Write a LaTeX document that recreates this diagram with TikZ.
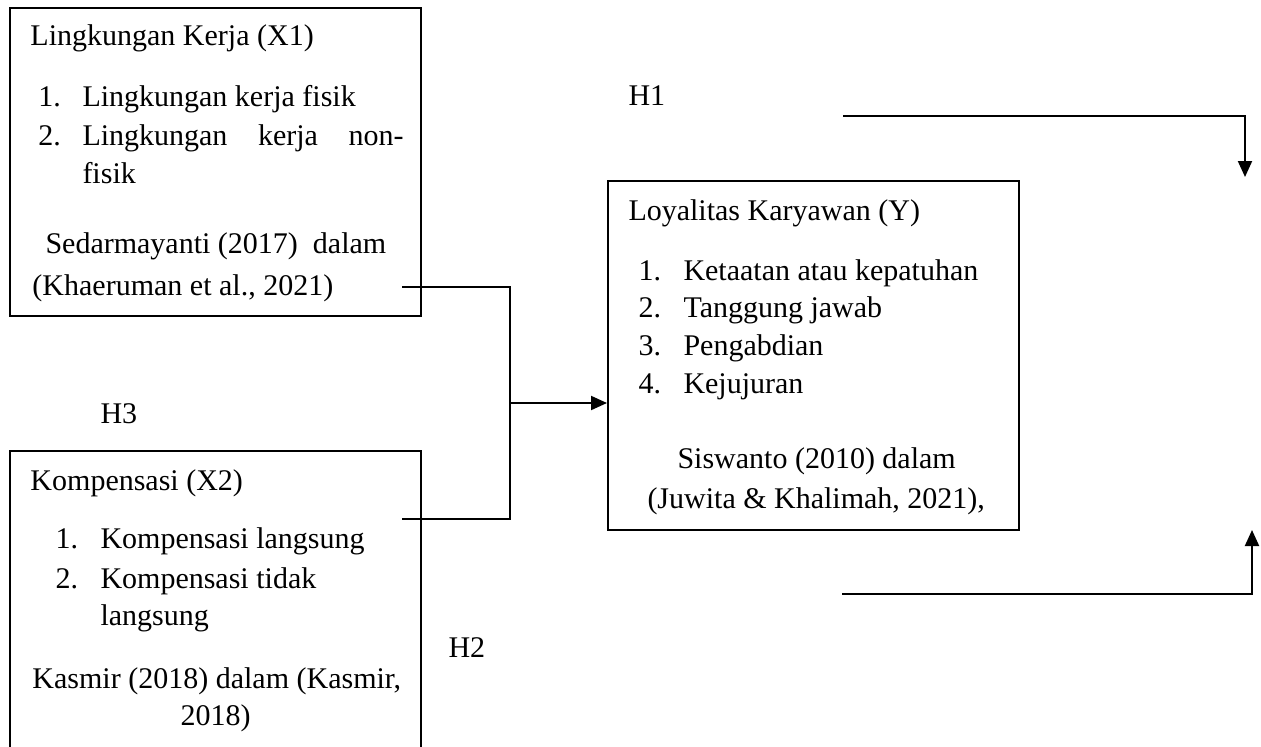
\documentclass[tikz,border=0pt]{standalone}
\usepackage{fontspec}
\setmainfont{Liberation Serif}
\usepackage{tikz}
\usetikzlibrary{arrows.meta,fit}
\tikzset{
  box/.style={draw, line width=0.8pt, inner sep=0pt},
  txt/.style={anchor=base west, inner sep=0pt},
  ln/.style={line width=0.8pt},
  arr/.style={ln, -{Triangle[length=6.4pt,width=5.6pt]}},
}

\begin{document}
\begin{tikzpicture}[x=0.4pt, y=-0.4pt, font=\fontsize{12pt}{14pt}\selectfont]
  \clip (0,0) rectangle (1261,747);
  % boxes
  \node[box, fit={(10,8) (421,316)}] (x1) {};
  \node[box, fit={(10,451) (421,790)}] (x2) {};
  \node[box, fit={(608,181) (1019,530)}] (y) {};
  % Lingkungan Kerja
  \node[txt] (x1t) at (30,45) {Lingkungan Kerja (X1)};
  \node[txt] (x1n1) at (38,106) {1.};
  \node[txt] (x1i1) at (82,106) {Lingkungan kerja fisik};
  \node[txt] (x1n2) at (38,145) {2.};
  \node[txt] (x1i2) at (82,145) {\makebox[128.4pt][l]{Lingkungan\hfill kerja\hfill non-}};
  \node[txt] (x1i2b) at (82,183) {fisik};
  \node[txt] (x1s1) at (45,253) {Sedarmayanti (2017)\ \ dalam};
  \node[txt] (x1s2) at (32,295) {(Khaeruman et al., 2021)};
  % Kompensasi
  \node[txt] (x2t) at (30,490) {Kompensasi (X2)};
  \node[txt] (x2n1) at (55,548) {1.};
  \node[txt] (x2i1) at (100,548) {Kompensasi langsung};
  \node[txt] (x2n2) at (55,588) {2.};
  \node[txt] (x2i2) at (100,588) {Kompensasi tidak};
  \node[txt] (x2i2b) at (100,625) {langsung};
  \node[txt] (x2s1) at (32,688) {Kasmir (2018) dalam (Kasmir,};
  \node[txt] (x2s2) at (180,725) {2018)};
  % Loyalitas
  \node[txt] (yt) at (628,220) {Loyalitas Karyawan (Y)};
  \foreach \n/\t/\yy in {1/Ketaatan atau kepatuhan/280, 2/Tanggung jawab/317, 3/Pengabdian/355, 4/Kejujuran/393}{
    \node[txt] (yn\n) at (638,\yy) {\n.};
    \node[txt] (yi\n) at (683,\yy) {\t};
  }
  \node[txt] (ys1) at (677,468) {Siswanto (2010) dalam};
  \node[txt] (ys2) at (647,508) {(Juwita \& Khalimah, 2021),};
  % hypotheses
  \node[txt] (h1) at (628,105) {H1};
  \node[txt] (h2) at (448,657) {H2};
  \node[txt] (h3) at (100,423) {H3};
  % connectors
  \coordinate (x1out) at (402,287);
  \coordinate (x2out) at (402,519);
  \coordinate (join) at (510,403);
  \draw[ln] (x1out) -| (join);
  \draw[ln] (x2out) -| (join);
  \draw[arr] (join) -- (join -| y.west);
  \coordinate (h1a) at (843,116);
  \coordinate (h1b) at (1245,177);
  \draw[arr] (h1a) -| (h1b);
  \coordinate (h2a) at (842,594);
  \coordinate (h2b) at (1252,530);
  \draw[arr] (h2a) -| (h2b);
\end{tikzpicture}
\end{document}
